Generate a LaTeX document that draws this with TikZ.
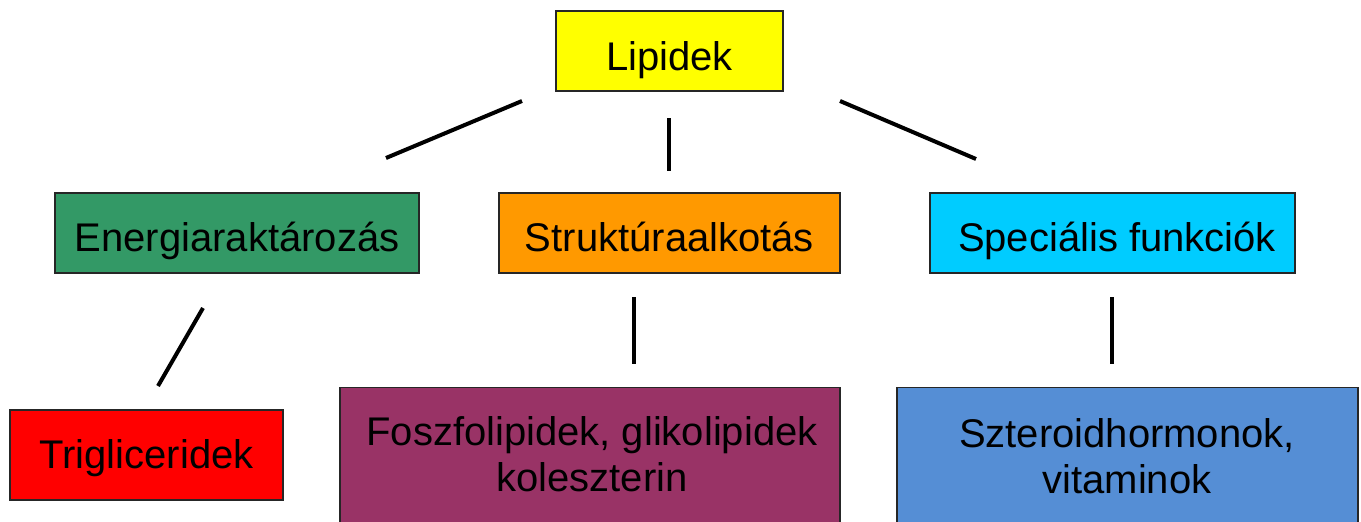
\documentclass[tikz,border=0pt]{standalone}
\usepackage{fontspec}
\setmainfont{Liberation Sans}
\definecolor{lipyellow}{HTML}{FFFF00}
\definecolor{energygreen}{HTML}{339966}
\definecolor{structorange}{HTML}{FF9900}
\definecolor{specialcyan}{HTML}{00CCFF}
\definecolor{trired}{HTML}{FF0000}
\definecolor{phosplum}{HTML}{993366}
\definecolor{sterblue}{HTML}{558ED5}
\begin{document}
\begin{tikzpicture}[x=1pt,y=-1pt,
  box/.style={draw=black!85, line width=1.3pt, inner sep=0pt},
  label/.style={inner sep=0pt, anchor=base, font=\fontsize{40}{46}\selectfont},
  link/.style={line width=4pt}]
\useasboundingbox (0,0) rectangle (1361,522);
\clip (0,0) rectangle (1361,522);

% top level
\node[box, fill=lipyellow, minimum width=227pt, minimum height=80pt] (lip) at (669.5,51) {};
\node[label] (liptext) at (669.5,70) {Lipidek};

% second level
\node[box, fill=energygreen, minimum width=364pt, minimum height=80pt] (energy) at (237,233) {};
\node[label] (energytext) at (237,251) {Energiaraktározás};
\node[box, fill=structorange, minimum width=341pt, minimum height=80pt] (struct) at (669.5,233) {};
\node[label] (structtext) at (669.5,251) {Struktúraalkotás};
\node[box, fill=specialcyan, minimum width=365pt, minimum height=80pt] (special) at (1112.5,233) {};
\node[label] (specialtext) at (1117,251) {Speciális funkciók};

% third level
\node[box, fill=trired, minimum width=273pt, minimum height=90pt] (tri) at (146.5,455) {};
\node[label] (tritext) at (146.5,468) {Trigliceridek};
\node[box, fill=phosplum, minimum width=500pt, minimum height=160pt, anchor=north] (phos) at (590,387) {};
\node[label] (phostexta) at (592,445) {Foszfolipidek, glikolipidek};
\node[label] (phostextb) at (592,491) {koleszterin};
\node[box, fill=sterblue, minimum width=461pt, minimum height=160pt, anchor=north] (ster) at (1127.5,387) {};
\node[label] (stertexta) at (1127,447) {Szteroidhormonok,};
\node[label] (stertextb) at (1127,493) {vitaminok};

% free-standing connector ends
\coordinate (l1a) at (522,101); \coordinate (l1b) at (386,158);
\coordinate (l2a) at (669,118); \coordinate (l2b) at (669,171);
\coordinate (l3a) at (840,101); \coordinate (l3b) at (976,159);
\coordinate (l4a) at (203,308); \coordinate (l4b) at (158,386);
\coordinate (l5a) at (634,297); \coordinate (l5b) at (634,364);
\coordinate (l6a) at (1112,297); \coordinate (l6b) at (1112,364);

\draw[link] (l1a) -- (l1b);
\draw[link] (l2a) -- (l2b);
\draw[link] (l3a) -- (l3b);
\draw[link] (l4a) -- (l4b);
\draw[link] (l5a) -- (l5b);
\draw[link] (l6a) -- (l6b);
\end{tikzpicture}
\end{document}
